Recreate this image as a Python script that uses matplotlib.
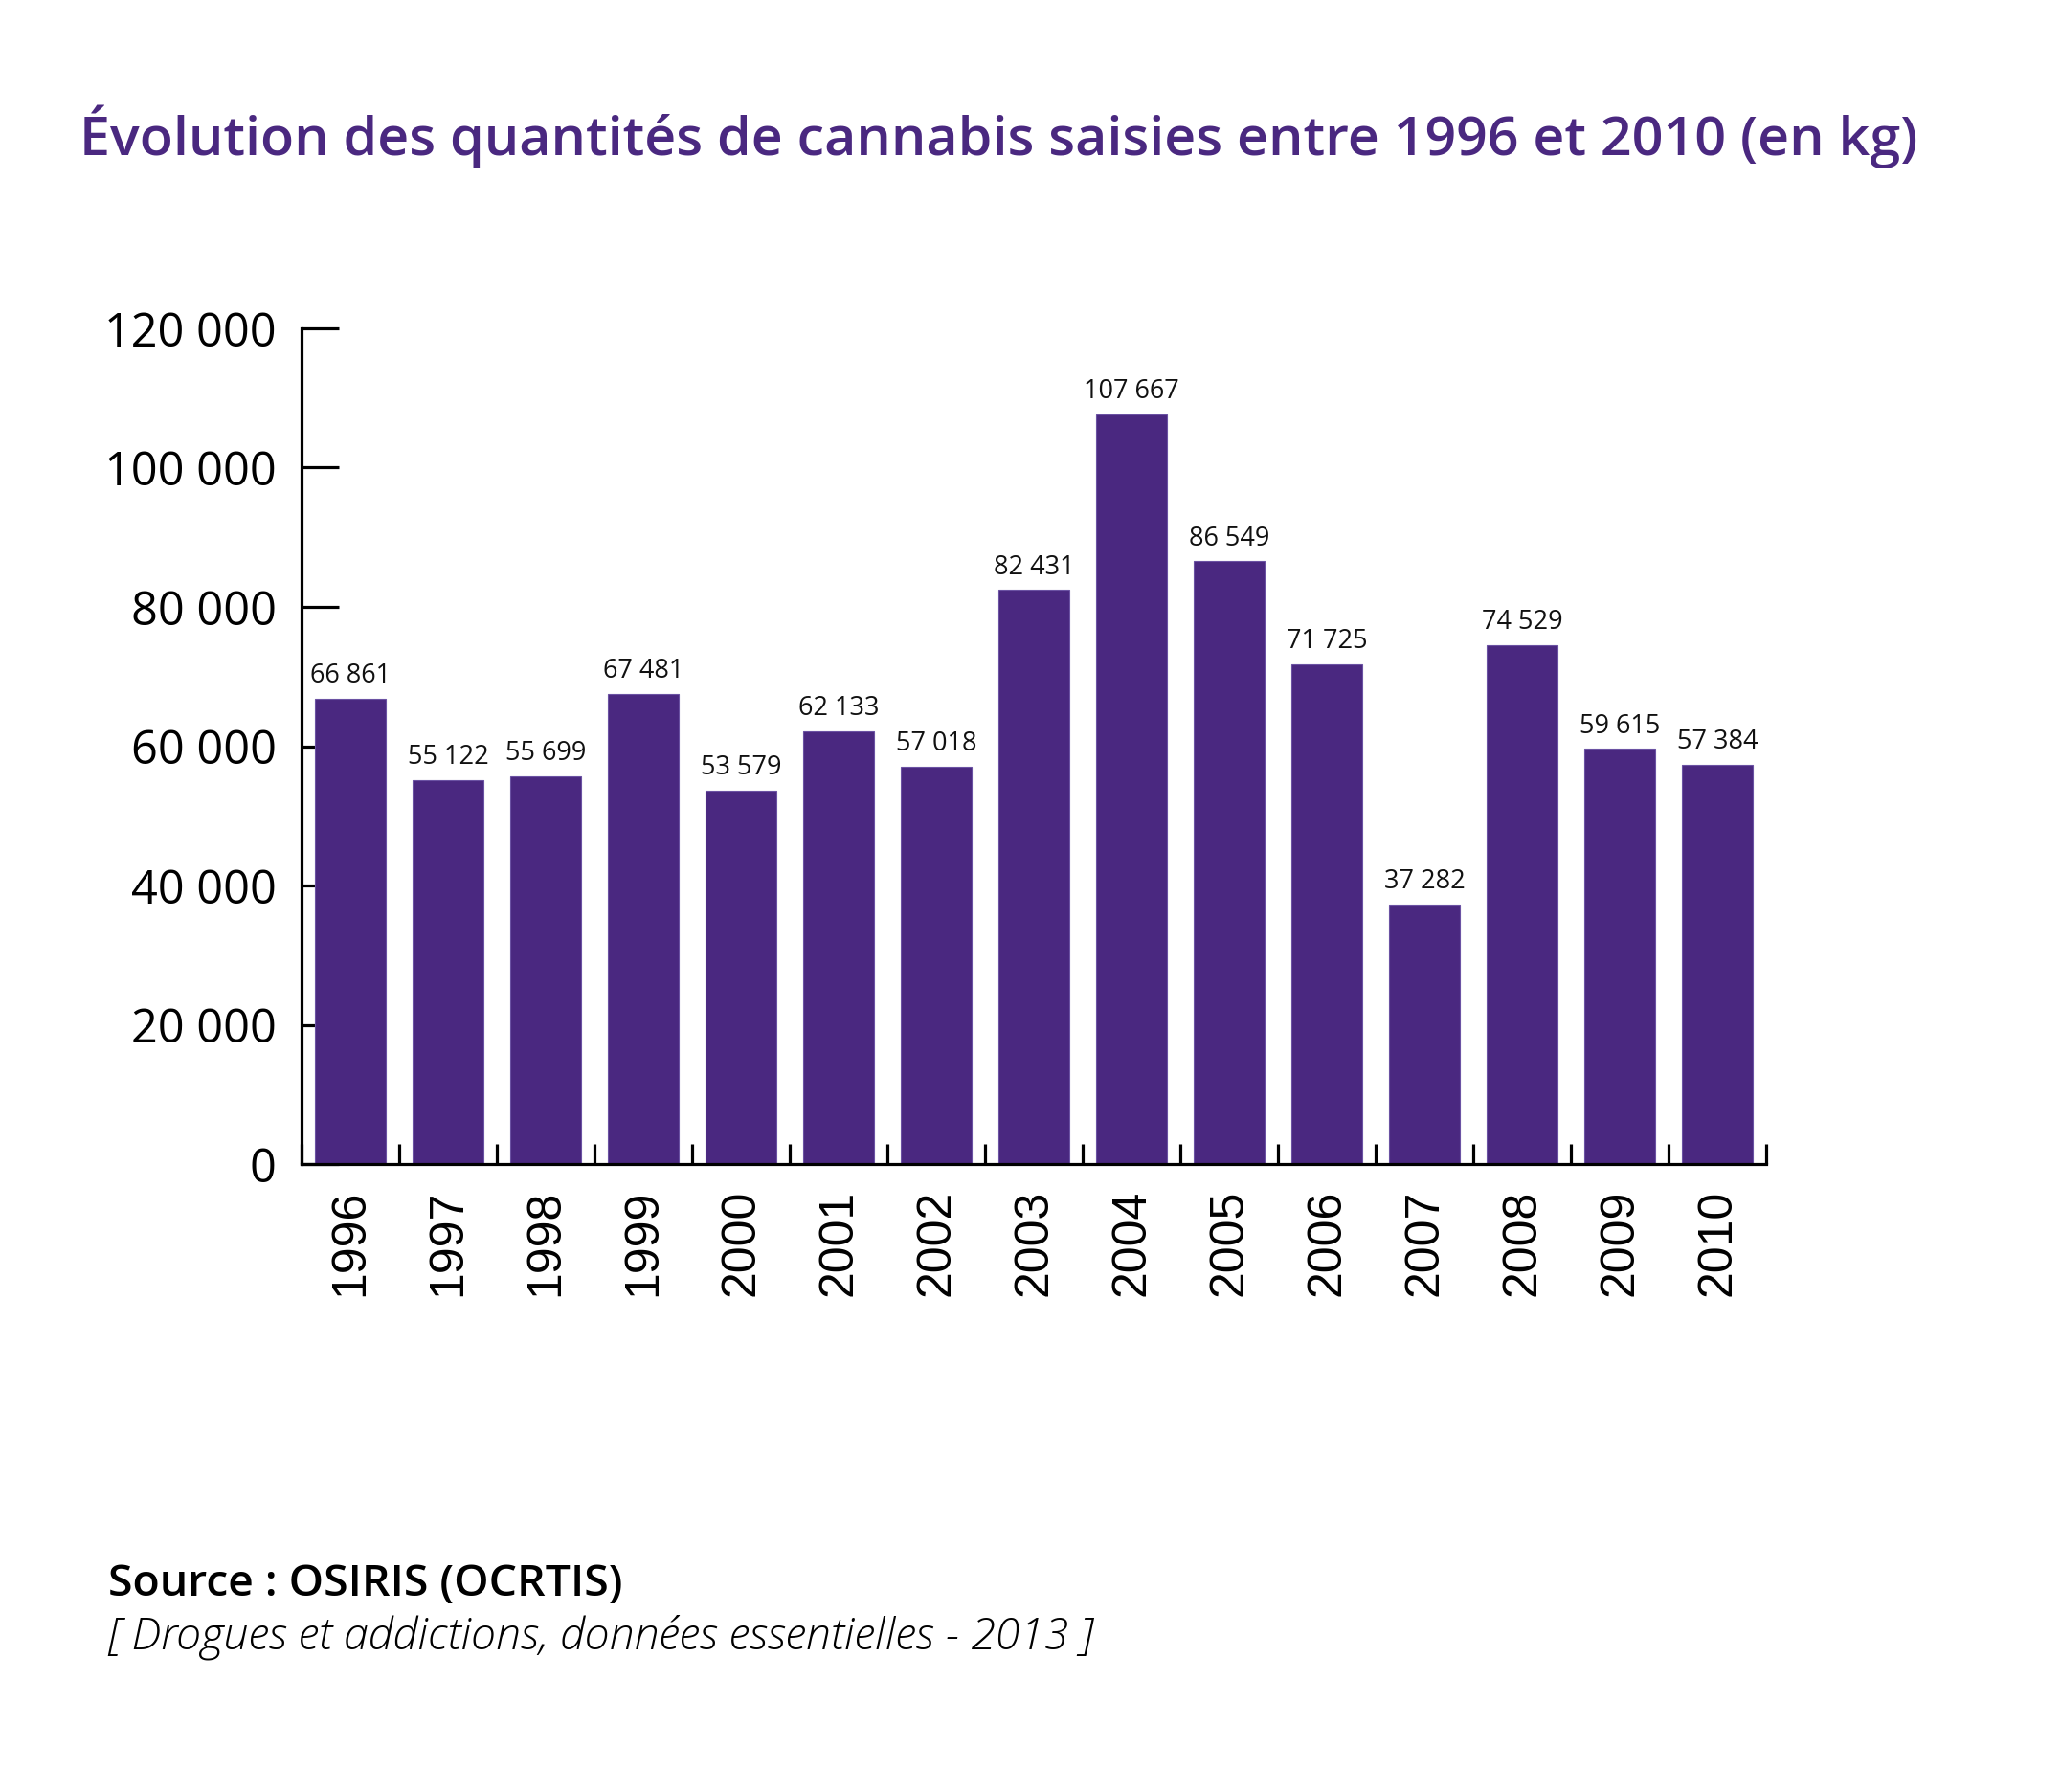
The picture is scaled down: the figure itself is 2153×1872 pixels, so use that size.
import numpy as np
import matplotlib
matplotlib.use("Agg")
import matplotlib.pyplot as plt
from matplotlib.ticker import FixedLocator, FuncFormatter

years = ["1996", "1997", "1998", "1999", "2000", "2001", "2002", "2003",
         "2004", "2005", "2006", "2007", "2008", "2009", "2010"]
seized_kg = [66861, 55122, 55699, 67481, 53579, 62133, 57018, 82431,
             107667, 86549, 71725, 37282, 74529, 59615, 57384]
y_ticks = [0, 20000, 40000, 60000, 80000, 100000, 120000]

title = "Évolution des quantités de cannabis saisies entre 1996 et 2010 (en kg)"
source = "Source : OSIRIS (OCRTIS)"
reference = "[ Drogues et addictions, données essentielles - 2013 ]"

PURPLE = "#4a2880"


def fr_thousands(v):
    # 120000 -> "120 000"
    return f"{int(v):,}".replace(",", " ")


fig = plt.figure(figsize=(21.53, 18.72), dpi=100)
ax = fig.add_axes([0.1463, 0.3504, 0.8570 - 0.1463, 0.8168 - 0.3504])

x = np.arange(len(years))
bars = ax.bar(x, seized_kg, width=0.725, color=PURPLE,
              edgecolor="#6b52a3", linewidth=0.8, zorder=2)

# valeurs au-dessus des barres
for rect, v in zip(bars, seized_kg):
    ax.annotate(fr_thousands(v),
                xy=(rect.get_x() + rect.get_width() / 2, rect.get_height()),
                xytext=(0, 7), textcoords="offset points",
                ha="center", va="bottom", fontsize=19.5,
                family=["Open Sans", "DejaVu Sans"], color="#111111")

ax.set_xlim(-0.5, len(years) - 0.5)
ax.set_ylim(0, 120000)
ax.set_axisbelow(True)

for side in ("top", "right"):
    ax.spines[side].set_visible(False)
for side in ("left", "bottom"):
    ax.spines[side].set_linewidth(2.3)
    ax.spines[side].set_color("black")

# axe y
ax.yaxis.set_major_locator(FixedLocator(y_ticks))
ax.yaxis.set_major_formatter(FuncFormatter(lambda v, p: fr_thousands(v)))
ax.tick_params(axis="y", direction="in", length=28, width=2.3, pad=19,
               labelsize=35, colors="black")
for lab in ax.get_yticklabels():
    lab.set_family(["Open Sans", "DejaVu Sans"])

# axe x : étiquettes au centre, petites graduations entre les barres
ax.set_xticks(x)
ax.set_xticklabels(years, rotation=90, family=["Liberation Sans", "DejaVu Sans"])
ax.tick_params(axis="x", which="major", length=0, pad=19, labelsize=36)
ax.xaxis.set_minor_locator(FixedLocator(np.arange(len(years) + 1) - 0.5))
ax.tick_params(axis="x", which="minor", direction="in", length=15, width=2.3)

fig.text(0.0386, 1 - 162 / 1872, title, fontsize=41.3, color=PURPLE,
         family=["Open Sans", "DejaVu Sans"], weight="semibold",
         ha="left", va="baseline")
fig.text(113 / 2153, 1 - 1667 / 1872, source, fontsize=33.4, color="black",
         family=["Open Sans", "DejaVu Sans"], weight="semibold",
         ha="left", va="baseline")
fig.text(113 / 2153, 1 - 1722 / 1872, reference, fontsize=33.6, color="black",
         family=["Open Sans", "DejaVu Sans"], weight="light", style="italic",
         ha="left", va="baseline")

fig.savefig("out.png", dpi=100)
plt.close(fig)
